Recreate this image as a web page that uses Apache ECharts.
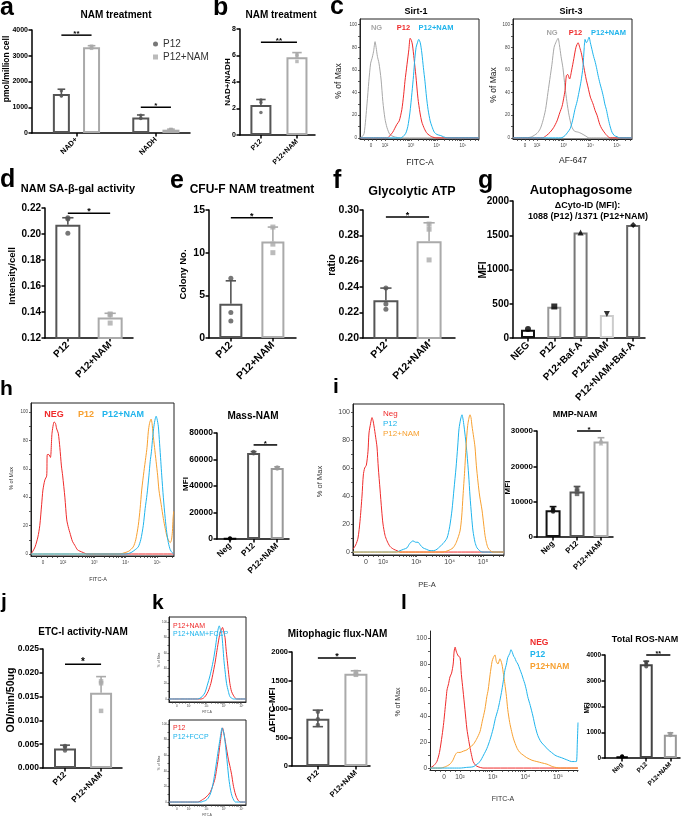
<!DOCTYPE html>
<html><head><meta charset="utf-8">
<script src="https://cdn.jsdelivr.net/npm/echarts@6.0.0/dist/echarts.min.js"></script>
<style>html,body{margin:0;padding:0;background:#fff;}#chart{width:685px;height:823px;}</style>
</head><body><div id="chart"></div>
<script>
// ================= DATA =================
// a: NAM treatment (grouped)
const aCats = ['NAD+', 'NADH'];
const aP12Mean = [1510, 606];
const aP12Upper = [1700, 700];
const aP12Dots = [[1640, 1450, 1440], [690, 580, 560]];
const aNAMMean = [3330, 129];
const aNAMUpper = [3390, 150];
const aNAMDots = [[3370, 3330, 3290], [140, 130, 115]];
const aSig = [[-0.19, 0.19, 3800, '**'], [0.81, 1.19, 1000, '*']];
// b: NAD+/NADH
const bCats = ['P12', 'P12+NAM'];
const bMean = [2.27, 5.86];
const bUpper = [2.68, 6.22];
const bDots = [[2.65, 2.45, 1.7], [6.1, 5.95, 5.55]];
const bSig = [[0, 1, 7.0, '**']];
// c: Sirt-1 / Sirt-3 histograms (x in decades of the logicle scale)
const flowTickLabels = ['0', '10²', '10³', '10⁴', '10⁵'];
const histYTicks = [0, 20, 40, 60, 80, 100];
const c1NG = [[1.04,0],[1.12,1],[1.2,4],[1.31,30],[1.38,50],[1.45,66],[1.5,70],[1.56,76],[1.62,85],[1.66,80],[1.71,72],[1.77,66],[1.85,52],[1.92,32],[2.0,17],[2.08,9],[2.19,3],[2.35,1],[2.6,0],[5.62,0]];
const c1P12 = [[1.04,0],[2.1,0],[2.19,2],[2.3,5],[2.46,12],[2.55,15],[2.65,25],[2.72,38],[2.77,50],[2.85,65],[2.92,78],[2.97,88],[3.02,86],[3.06,82],[3.12,70],[3.19,55],[3.27,35],[3.35,22],[3.42,14],[3.52,8],[3.62,4],[3.8,1],[4.0,0],[5.62,0]];
const c1NAM = [[1.04,0],[2.6,0],[2.69,1],[2.8,4],[2.88,10],[2.96,22],[3.04,40],[3.1,55],[3.15,70],[3.2,80],[3.25,84],[3.3,87],[3.36,84],[3.42,75],[3.48,62],[3.54,50],[3.6,36],[3.66,25],[3.74,15],[3.81,10],[3.9,5],[4.0,3],[4.15,2],[4.25,1],[4.4,0],[5.62,0]];
const c2NG = [[1.1,0],[1.6,0],[1.8,1],[2.0,4],[2.12,8],[2.22,15],[2.32,25],[2.41,40],[2.5,55],[2.56,65],[2.64,80],[2.72,85],[2.79,88],[2.84,82],[2.9,72],[2.97,62],[3.05,45],[3.12,32],[3.2,20],[3.3,10],[3.4,6],[3.55,5],[3.65,4],[3.8,2],[3.95,0],[5.56,0]];
const c2P12 = [[1.1,0],[2.2,0],[2.35,2],[2.49,5],[2.62,9],[2.75,15],[2.85,22],[2.94,28],[3.0,35],[3.05,42],[3.1,55],[3.15,56],[3.22,52],[3.3,60],[3.38,70],[3.46,80],[3.54,84],[3.6,80],[3.67,74],[3.76,62],[3.84,52],[3.91,45],[4.0,36],[4.1,30],[4.18,24],[4.25,20],[4.35,12],[4.43,8],[4.55,4],[4.62,2],[4.75,0],[5.56,0]];
const c2NAM = [[1.1,0],[2.9,0],[3.05,2],[3.15,5],[3.24,8],[3.33,15],[3.42,25],[3.5,32],[3.57,40],[3.65,50],[3.72,62],[3.77,80],[3.8,87],[3.85,84],[3.9,86],[3.95,89],[4.0,84],[4.06,78],[4.12,72],[4.17,68],[4.23,62],[4.29,55],[4.36,48],[4.43,42],[4.5,35],[4.54,30],[4.6,25],[4.66,18],[4.73,11],[4.81,5],[4.9,2],[5.0,1],[5.1,0],[5.56,0]];
// d: SA-beta-gal
const dCats = ['P12', 'P12+NAM'];
const dMean = [0.2072, 0.1357];
const dUpper = [0.2125, 0.139];
const dDots = [[0.2125, 0.2115, 0.2005], [0.1385, 0.1378, 0.1315]];
const dSig = [[0, 1, 0.216, '*']];
// e: CFU-F
const eCats = ['P12', 'P12+NAM'];
const eMean = [4.0, 11.3];
const eUpper = [6.7, 13.0];
const eDots = [[7.0, 3.0, 2.0], [13.0, 11.0, 10.0]];
const eSig = [[0, 1, 14.1, '*']];
// f: Glycolytic ATP
const fCats = ['P12', 'P12+NAM'];
const fMean = [0.2295, 0.2755];
const fUpper = [0.239, 0.290];
const fDots = [[0.239, 0.2265, 0.2225], [0.289, 0.285, 0.261]];
const fSig = [[0, 1, 0.2945, '*']];
// g: Autophagosome
const gCats = ['NEG', 'P12', 'P12+Baf-A', 'P12+NAM', 'P12+NAM+Baf-A'];
const gMean = [120, 455, 1540, 335, 1650];
const gDots = [[130], [460], [1540], [350], [1650]];
// h: Mitochondrial mass
const hNEG = [[0.98,0],[1.04,2],[1.11,5],[1.2,12],[1.26,20],[1.32,35],[1.36,45],[1.42,52],[1.48,55],[1.5,70],[1.55,70],[1.6,68],[1.65,85],[1.72,93],[1.76,92],[1.8,88],[1.85,85],[1.9,75],[1.95,62],[1.99,55],[2.06,40],[2.12,24],[2.18,18],[2.22,15],[2.3,9],[2.38,6],[2.46,3],[2.54,2],[2.65,1],[2.76,0],[5.54,0]];
const hP12 = [[0.98,0],[3.8,0],[3.98,1],[4.1,2],[4.24,5],[4.32,10],[4.4,20],[4.46,32],[4.51,45],[4.58,58],[4.64,68],[4.68,75],[4.72,86],[4.76,92],[4.81,95],[4.84,92],[4.87,85],[4.92,75],[4.97,65],[5.02,55],[5.06,45],[5.13,35],[5.2,25],[5.26,18],[5.32,12],[5.38,9],[5.42,8],[5.46,10],[5.49,16],[5.51,25],[5.53,30]];
const hNAM = [[0.98,0],[4.0,0],[4.17,1],[4.3,3],[4.4,5],[4.48,10],[4.56,20],[4.62,32],[4.68,42],[4.74,55],[4.78,65],[4.82,72],[4.86,82],[4.9,90],[4.94,95],[4.97,97],[5.0,95],[5.04,90],[5.08,78],[5.12,65],[5.15,55],[5.2,40],[5.26,25],[5.31,15],[5.36,8],[5.42,3],[5.48,1],[5.54,0]];
const hBarCats = ['Neg', 'P12', 'P12+NAM'];
const hBarMean = [300, 65000, 53500];
const hBarUpper = [300, 66000, 54500];
const hBarDots = [[100, 300, 500], [64500, 65000, 65800], [53000, 53500, 54200]];
const hBarSig = [[1, 2, 71000, '*']];
// i: MMP
const iNeg = [[1.1,2],[1.18,5],[1.25,10],[1.31,22],[1.37,40],[1.41,55],[1.45,60],[1.5,62],[1.55,72],[1.58,85],[1.63,92],[1.67,96],[1.7,94],[1.73,90],[1.78,82],[1.82,75],[1.86,60],[1.91,45],[1.96,30],[2.0,20],[2.06,12],[2.12,8],[2.21,4],[2.32,2],[2.42,1],[2.51,0],[5.63,0]];
const iP12 = [[1.1,0],[2.4,0],[2.51,1],[2.62,2],[2.72,3],[2.8,6],[2.9,8],[2.98,7],[3.05,7],[3.12,5],[3.2,3],[3.3,2],[3.41,1],[3.52,1],[3.62,2],[3.71,4],[3.8,6],[3.92,10],[4.0,18],[4.07,30],[4.13,45],[4.19,60],[4.24,75],[4.28,88],[4.33,95],[4.37,98],[4.4,95],[4.43,90],[4.48,80],[4.52,70],[4.57,55],[4.61,40],[4.66,25],[4.7,15],[4.76,7],[4.82,3],[4.9,1],[4.97,0],[5.63,0]];
const iNAM = [[1.1,0],[3.8,0],[3.95,1],[4.1,3],[4.2,7],[4.31,15],[4.36,25],[4.4,40],[4.45,58],[4.49,75],[4.52,85],[4.55,92],[4.61,98],[4.64,96],[4.67,90],[4.72,82],[4.76,75],[4.8,62],[4.85,50],[4.9,40],[4.97,30],[5.02,20],[5.06,12],[5.1,7],[5.15,3],[5.22,1],[5.3,0],[5.63,0]];
const iBarCats = ['Neg', 'P12', 'P12+NAM'];
const iBarMean = [7600, 12900, 27000];
const iBarUpper = [8600, 14300, 28100];
const iBarDots = [[7200, 7600, 8000], [12200, 12900, 13600], [26500, 27000, 27500]];
const iBarSig = [[1, 2, 30000, '*']];
// j: ETC-I activity
const jCats = ['P12', 'P12+NAM'];
const jMean = [0.0041, 0.0158];
const jUpper = [0.0048, 0.0192];
const jDots = [[0.0046, 0.0044, 0.0037], [0.0182, 0.0178, 0.012]];
const jSig = [[0, 1, 0.0218, '*']];
// k: Mitophagic flux
const kTopNAM = [[0.86,0],[2.7,0],[2.82,1],[2.95,4],[3.1,10],[3.25,20],[3.39,35],[3.5,48],[3.58,60],[3.68,74],[3.77,85],[3.85,90],[3.92,93],[3.98,88],[4.06,80],[4.12,65],[4.19,50],[4.26,35],[4.34,20],[4.43,10],[4.53,5],[4.62,2],[4.72,0],[5.26,0]];
const kTopFCCP = [[0.86,0],[2.5,0],[2.63,1],[2.75,3],[2.91,8],[3.05,18],[3.2,30],[3.32,42],[3.43,55],[3.53,70],[3.62,85],[3.69,93],[3.73,95],[3.8,90],[3.87,85],[3.94,68],[4.0,50],[4.07,35],[4.15,20],[4.25,10],[4.34,3],[4.45,1],[4.53,0],[5.26,0]];
const kBotP12 = [[0.86,0],[2.5,0],[2.63,1],[2.77,3],[2.91,5],[3.05,8],[3.2,12],[3.35,20],[3.49,30],[3.58,42],[3.67,55],[3.75,70],[3.81,80],[3.87,90],[3.92,95],[3.98,90],[4.06,80],[4.15,68],[4.25,55],[4.35,45],[4.44,35],[4.53,22],[4.63,12],[4.72,6],[4.82,2],[4.95,0],[5.26,0]];
const kBotFCCP = [[0.86,0],[2.7,0],[2.82,1],[2.96,2],[3.1,5],[3.25,12],[3.39,25],[3.5,40],[3.6,55],[3.7,70],[3.77,80],[3.84,90],[3.89,95],[3.95,92],[4.02,85],[4.1,70],[4.19,50],[4.28,30],[4.38,15],[4.47,7],[4.57,2],[4.66,0],[5.26,0]];
const kCats = ['P12', 'P12+NAM'];
const kMean = [830, 1620];
const kUpper = [980, 1670];
const kLower = [690, 1620];
const kDots = [[950, 820, 720], [1650, 1600, 1610]];
const kSig = [[0, 1, 1895, '*']];
// l: Total ROS
const lNEG = [[1.08,0],[1.2,2],[1.29,5],[1.37,12],[1.45,25],[1.5,35],[1.54,45],[1.58,55],[1.6,60],[1.65,65],[1.69,70],[1.74,73],[1.79,80],[1.82,90],[1.85,93],[1.88,90],[1.91,88],[1.95,86],[2.0,85],[2.04,72],[2.09,60],[2.15,45],[2.21,30],[2.26,22],[2.31,15],[2.36,9],[2.4,5],[2.48,2],[2.55,1],[2.7,0],[5.61,0]];
const lNAM = [[1.08,0],[1.39,0],[1.55,1],[1.69,3],[1.78,6],[1.85,10],[1.92,12],[2.0,12],[2.1,13],[2.21,14],[2.3,16],[2.4,18],[2.5,22],[2.61,28],[2.68,36],[2.76,45],[2.82,55],[2.86,60],[2.92,72],[2.98,82],[3.02,85],[3.07,87],[3.11,82],[3.16,80],[3.22,84],[3.28,80],[3.33,72],[3.37,65],[3.42,55],[3.46,45],[3.52,35],[3.58,28],[3.63,23],[3.67,20],[3.75,15],[3.83,12],[3.93,10],[4.04,8],[4.2,6],[4.35,5],[4.5,4],[4.66,3],[4.75,2],[4.84,1],[5.06,0],[5.61,0]];
const lP12 = [[1.08,0],[2.0,0],[2.2,0.5],[2.4,1],[2.52,3],[2.61,5],[2.72,10],[2.82,15],[2.92,22],[3.01,30],[3.08,38],[3.16,45],[3.22,52],[3.28,60],[3.33,68],[3.37,75],[3.42,80],[3.46,85],[3.52,88],[3.56,91],[3.6,89],[3.64,86],[3.67,85],[3.72,82],[3.77,80],[3.83,76],[3.89,72],[3.94,68],[3.98,65],[4.03,60],[4.07,55],[4.15,48],[4.23,40],[4.3,32],[4.38,25],[4.48,20],[4.59,17],[4.7,14],[4.8,12],[4.9,10],[4.98,9],[5.1,8],[5.2,7],[5.3,6],[5.41,5],[5.5,5],[5.56,5],[5.59,20],[5.61,35]];
const lBarCats = ['Neg', 'P12', 'P12+NAM'];
const lBarMean = [60, 3640, 900];
const lBarUpper = [60, 3760, 980];
const lBarDots = [[50, 60, 70], [3550, 3650, 3720], [880, 900, 940]];
const lBarSig = [[1, 2, 4000, '**']];

// ================= BUILD =================
const FONT = '"Liberation Sans", Arial, Helvetica, sans-serif';
const RED = '#ef2b2b', BLUE = '#1fb4ec', ORANGE = '#f7a030', GREY = '#a8a8a8';
const grids = [], xAxes = [], yAxes = [], series = [], graphic = [];

function text(x, y, s, size, opt) {
  opt = opt || {};
  graphic.push({ type: 'text', x: x, y: y, rotation: opt.rot ? Math.PI / 2 : 0, silent: true, z: 100,
    style: { text: s, font: (opt.normal ? '' : 'bold ') + size + 'px ' + FONT, fill: opt.color || '#000',
      textAlign: opt.align || 'center', textVerticalAlign: 'middle' } });
}

function sigSeries(gi, sig, size) {
  series.push({ type: 'custom', xAxisIndex: gi, yAxisIndex: gi, silent: true, animation: false, z: 5,
    data: sig.map(s => [s[0], s[1], s[2]]),
    renderItem: (params, api) => {
      const a = api.coord([api.value(0), api.value(2)]);
      const b = api.coord([api.value(1), api.value(2)]);
      return { type: 'group', children: [
        { type: 'line', shape: { x1: a[0], y1: a[1], x2: b[0], y2: b[1] }, style: { stroke: '#000', lineWidth: 1.5 } },
        { type: 'text', x: (a[0] + b[0]) / 2, y: a[1] + size * 0.35, style: { text: sig[params.dataIndex][3],
          font: 'bold ' + size + 'px ' + FONT, fill: '#000', textAlign: 'center', textVerticalAlign: 'bottom' } }
      ] };
    } });
}

function barPanel(p) {
  const gi = grids.length;
  grids.push({ left: p.L, top: p.T, width: p.R - p.L, height: p.B - p.T, show: false });
  const idx = p.cats.map((c, i) => i);
  const lw = p.lw || 1.5, tl = p.tl || 3.5;
  xAxes.push({ gridIndex: gi, type: 'value', min: p.xmin, max: p.xmax, splitLine: { show: false },
    axisLine: { show: true, onZero: false, lineStyle: { color: '#000', width: lw } },
    axisTick: { show: true, customValues: idx, length: tl, lineStyle: { color: '#000', width: lw } },
    axisLabel: { show: true, customValues: idx, formatter: v => p.cats[Math.round(v)], rotate: 45, margin: tl + 2,
      fontSize: p.xfs || p.fs, fontWeight: 'bold', fontFamily: FONT, color: '#000' } });
  yAxes.push({ gridIndex: gi, type: 'value', min: p.ymin, max: p.ymax, interval: p.yint, splitLine: { show: false },
    axisLine: { show: true, onZero: false, lineStyle: { color: '#000', width: lw } },
    axisTick: { show: true, length: tl, lineStyle: { color: '#000', width: lw } },
    axisLabel: { margin: tl + 0.5, fontSize: p.fs, fontWeight: 'bold', fontFamily: FONT, color: '#000',
      formatter: p.dec != null ? (v => v.toFixed(p.dec)) : (v => String(Math.round(v))) } });
  p.groups.forEach(g => {
    const col = i => Array.isArray(g.color) ? g.color[i] : g.color;
    const dcol = i => g.dotColor ? (Array.isArray(g.dotColor) ? g.dotColor[i] : g.dotColor) : col(i);
    const sym = i => Array.isArray(g.sym) ? g.sym[i] : (g.sym || 'circle');
    const off = g.off || 0;
    series.push({ type: 'bar', xAxisIndex: gi, yAxisIndex: gi, barWidth: p.bw, barGap: '-100%', silent: true, animation: false, z: 2,
      data: g.mean.map((v, i) => ({ value: [i + off, v], itemStyle: { color: '#fff', borderColor: col(i), borderWidth: p.bl || 2 } })) });
    if (g.upper) {
      const eb = g.mean.map((v, i) => [i + off, v, g.upper[i], g.lower ? g.lower[i] : v]);
      const cap = p.cap || p.bw * 0.45;
      series.push({ type: 'custom', xAxisIndex: gi, yAxisIndex: gi, silent: true, animation: false, z: 3, data: eb,
        renderItem: (params, api) => {
          const x = api.value(0), m = api.value(1), hi = api.value(2), lo = api.value(3);
          const c = col(params.dataIndex);
          const ph = api.coord([x, hi]), pl = api.coord([x, lo]);
          const ch = [];
          if (hi > m || lo < m) ch.push({ type: 'line', shape: { x1: ph[0], y1: ph[1], x2: pl[0], y2: pl[1] }, style: { stroke: c, lineWidth: 1.6 } });
          if (hi > m) ch.push({ type: 'line', shape: { x1: ph[0] - cap / 2, y1: ph[1], x2: ph[0] + cap / 2, y2: ph[1] }, style: { stroke: c, lineWidth: 1.6 } });
          if (lo < m) ch.push({ type: 'line', shape: { x1: pl[0] - cap / 2, y1: pl[1], x2: pl[0] + cap / 2, y2: pl[1] }, style: { stroke: c, lineWidth: 1.6 } });
          return { type: 'group', children: ch };
        } });
    }
    if (g.dots) g.dots.forEach((arr, i) => {
      series.push({ type: 'scatter', name: g.name, xAxisIndex: gi, yAxisIndex: gi, silent: true, animation: false, z: 4,
        symbol: sym(i), symbolSize: p.ds || 4, symbolRotate: g.symRot ? g.symRot[i] : 0,
        itemStyle: { color: dcol(i) }, data: arr.map(v => [i + off, v]) });
    });
  });
  if (p.sig) sigSeries(gi, p.sig, p.sigfs || 9);
}

function histPanel(p) {
  const gi = grids.length;
  grids.push({ left: p.L, top: p.T, width: p.R - p.L, height: p.B - p.T, show: !!p.box, borderColor: '#222', borderWidth: 1, backgroundColor: 'rgba(0,0,0,0)' });
  const majors = [p.zero, 2, 3, 4, 5];
  const minors = [];
  for (let n = 2; n <= 5; n++) for (let k = 1; k <= 9; k++) { const v = n + Math.log10(k); if (v < p.xmax) minors.push(v); }
  const st = (2 - p.xmin) / 6; for (let i = 1; i < 6; i++) minors.push(p.xmin + i * st);
  const yMinor = []; for (let v = 0; v <= 100; v += 10) yMinor.push(v);
  xAxes.push({ gridIndex: gi, type: 'value', min: p.xmin, max: p.xmax, splitLine: { show: false },
    axisLine: { show: true, onZero: false, lineStyle: { color: '#222', width: 1 } },
    axisTick: { show: true, customValues: minors, length: p.tl || 2, lineStyle: { color: '#333', width: 0.8 } },
    axisLabel: { show: true, customValues: majors, formatter: v => { const k = majors.findIndex(m => Math.abs(m - v) < 1e-6); return k >= 0 ? flowTickLabels[k] : ''; },
      fontSize: p.tfs, color: '#444', fontFamily: FONT, margin: p.xm || 4 } });
  yAxes.push({ gridIndex: gi, type: 'value', min: p.ymin, max: p.ymax, splitLine: { show: false },
    axisLine: { show: true, onZero: false, lineStyle: { color: '#222', width: 1 } },
    axisTick: { show: true, customValues: yMinor, length: p.tl || 2, lineStyle: { color: '#333', width: 0.8 } },
    axisLabel: { customValues: histYTicks, fontSize: p.tfs, color: '#444', fontFamily: FONT, margin: p.ym || 3, formatter: v => String(Math.round(v)) } });
  p.curves.forEach(c => series.push({ type: 'line', xAxisIndex: gi, yAxisIndex: gi, data: c[0], smooth: 0.25, symbol: 'none',
    lineStyle: { color: c[1], width: p.lw || 1 }, animation: false, silent: true, z: 3 }));
}

// ---- a ----
barPanel({ L: 32, T: 30, R: 190, B: 133, xmin: -0.56, xmax: 1.43, ymin: 0, ymax: 4000, yint: 1000, fs: 7, xfs: 7.5, bw: 17, ds: 3.5,
  cats: aCats, sigfs: 8,
  groups: [
    { off: -0.19, name: 'P12', mean: aP12Mean, upper: aP12Upper, dots: aP12Dots, color: '#555', sym: 'circle' },
    { off: 0.19, name: 'P12+NAM', mean: aNAMMean, upper: aNAMUpper, dots: aNAMDots, color: '#aaa', sym: 'rect' }],
  sig: aSig });
// ---- b ----
barPanel({ L: 240, T: 29, R: 315, B: 135, xmin: -0.58, xmax: 1.5, ymin: 0, ymax: 8, yint: 2, fs: 7, bw: 21, ds: 3.5, sigfs: 8,
  cats: bCats, groups: [{ mean: bMean, upper: bUpper, dots: bDots, color: ['#555', '#aaa'], sym: ['circle', 'rect'] }], sig: bSig });
// ---- c ----
histPanel({ L: 360, T: 19, R: 479, B: 139, xmin: 1.04, xmax: 5.62, zero: 1.46, ymin: -1, ymax: 105, tfs: 4.5, box: true,
  curves: [[c1NG, GREY], [c1P12, RED], [c1NAM, BLUE]] });
histPanel({ L: 513, T: 19, R: 632, B: 139, xmin: 1.1, xmax: 5.56, zero: 1.55, ymin: -1, ymax: 105, tfs: 4.5, box: true,
  curves: [[c2NG, GREY], [c2P12, RED], [c2NAM, BLUE]] });
// ---- d ----
barPanel({ L: 45, T: 208, R: 133, B: 338, xmin: -0.54, xmax: 1.54, ymin: 0.12, ymax: 0.22, yint: 0.02, dec: 2, fs: 10, bw: 25, ds: 5,
  cats: dCats, groups: [{ mean: dMean, upper: dUpper, dots: dDots, color: ['#555', '#aaa'], sym: ['circle', 'rect'] }], sig: dSig });
// ---- e ----
barPanel({ L: 209, T: 210, R: 296, B: 338, xmin: -0.52, xmax: 1.55, ymin: 0, ymax: 15, yint: 5, fs: 10.5, bw: 23, ds: 5,
  cats: eCats, groups: [{ mean: eMean, upper: eUpper, dots: eDots, color: ['#555', '#aaa'], sym: ['circle', 'rect'] }], sig: eSig });
// ---- f ----
barPanel({ L: 363, T: 210, R: 455, B: 338, xmin: -0.53, xmax: 1.6, ymin: 0.2, ymax: 0.3, yint: 0.02, dec: 2, fs: 10.5, bw: 25, ds: 5,
  cats: fCats, groups: [{ mean: fMean, upper: fUpper, dots: fDots, color: ['#555', '#aaa'], sym: ['circle', 'rect'] }], sig: fSig });
// ---- g ----
barPanel({ L: 513, T: 201, R: 645, B: 338, xmin: -0.57, xmax: 4.45, ymin: 0, ymax: 2000, yint: 500, fs: 10, bw: 14, ds: 6,
  cats: gCats, groups: [{ mean: gMean, dots: gDots, color: ['#111', '#999', '#777', '#ccc', '#666'], dotColor: '#000',
    sym: ['circle', 'rect', 'triangle', 'triangle', 'diamond'], symRot: [0, 0, 0, 180, 0] }] });
// ---- h ----
histPanel({ L: 31, T: 403, R: 174, B: 556, xmin: 0.98, xmax: 5.54, zero: 1.36, ymin: -1.4, ymax: 106.3, tfs: 4.5, box: true,
  curves: [[hNEG, RED], [hP12, ORANGE], [hNAM, BLUE]] });
barPanel({ L: 217, T: 433, R: 289, B: 539, xmin: -0.55, xmax: 2.5, ymin: 0, ymax: 80000, yint: 20000, fs: 8.5, bw: 13, ds: 4, sigfs: 8,
  cats: hBarCats, groups: [{ mean: hBarMean, upper: hBarUpper, dots: hBarDots, color: ['#000', '#555', '#999'], sym: 'circle' }], sig: hBarSig });
// ---- i ----
histPanel({ L: 353, T: 404, R: 504, B: 555, xmin: 1.1, xmax: 5.63, zero: 1.49, ymin: -2.1, ymax: 105.7, tfs: 7, box: true,
  curves: [[iNeg, RED], [iP12, BLUE], [iNAM, ORANGE]] });
barPanel({ L: 537, T: 431, R: 613, B: 537, xmin: -0.67, xmax: 2.5, ymin: 0, ymax: 30000, yint: 10000, fs: 8, bw: 15, ds: 4.5, sigfs: 8,
  cats: iBarCats, groups: [{ mean: iBarMean, upper: iBarUpper, dots: iBarDots, color: ['#111', '#555', '#aaa'], sym: ['circle', 'rect', 'triangle'] }], sig: iBarSig });
// ---- j ----
barPanel({ L: 43, T: 649, R: 122, B: 768, xmin: -0.61, xmax: 1.58, ymin: 0, ymax: 0.025, yint: 0.005, dec: 3, fs: 8.5, bw: 22, ds: 4.5, sigfs: 10,
  cats: jCats, groups: [{ mean: jMean, upper: jUpper, dots: jDots, color: ['#555', '#aaa'], sym: ['circle', 'rect'] }], sig: jSig });
// ---- k ----
histPanel({ L: 169, T: 617, R: 246, B: 702, xmin: 0.86, xmax: 5.26, zero: 1.31, ymin: -3.9, ymax: 106.5, tfs: 3, box: true, tl: 1.5, xm: 3, ym: 2,
  curves: [[kTopNAM, RED], [kTopFCCP, BLUE]] });
histPanel({ L: 169, T: 720, R: 246, B: 805, xmin: 0.86, xmax: 5.26, zero: 1.31, ymin: -3.8, ymax: 105.1, tfs: 3, box: true, tl: 1.5, xm: 3, ym: 2,
  curves: [[kBotP12, RED], [kBotFCCP, BLUE]] });
barPanel({ L: 292, T: 652, R: 370, B: 766, xmin: -0.68, xmax: 1.37, ymin: 0, ymax: 2000, yint: 500, fs: 7.5, bw: 23, ds: 4.5, sigfs: 9,
  cats: kCats, groups: [{ mean: kMean, upper: kUpper, lower: kLower, dots: kDots, color: ['#555', '#aaa'], sym: ['circle', 'rect'] }], sig: kSig });
// ---- l ----
histPanel({ L: 430, T: 631, R: 578, B: 770, xmin: 1.08, xmax: 5.61, zero: 1.51, ymin: -1.5, ymax: 105.4, tfs: 6.5, box: false,
  curves: [[lNEG, RED], [lNAM, ORANGE], [lP12, BLUE]] });
barPanel({ L: 605, T: 655, R: 680, B: 758, xmin: -0.71, xmax: 2.4, ymin: 0, ymax: 4000, yint: 1000, fs: 6.5, bw: 13, ds: 4, sigfs: 7,
  cats: lBarCats, groups: [{ mean: lBarMean, upper: lBarUpper, dots: lBarDots, color: ['#000', '#444', '#999'], sym: 'circle' }], sig: lBarSig });

// ---- texts ----
// panel letters
[['a',0,8.5,25],['b',213,8,25],['c',330,7,25],['d',0,180,25],['e',170,181,25],['f',333,181,25],['g',478,181,25],
 ['h',0,389.5,21],['i',333,387.5,21],['j',1,602.5,21],['k',152,603.5,21],['l',401,603.5,21]].forEach(t => text(t[1], t[2], t[0], t[3], { align: 'left' }));
// titles
text(116, 15, 'NAM treatment', 10);
text(281, 15, 'NAM treatment', 10);
text(416, 11.5, 'Sirt-1', 9);
text(571, 11.5, 'Sirt-3', 9);
text(78, 189, 'NAM SA-β-gal activity', 11);
text(252, 189.5, 'CFU-F NAM treatment', 12);
text(412, 192, 'Glycolytic ATP', 12.5);
text(581, 190, 'Autophagosome', 13);
text(587.5, 205.5, 'ΔCyto-ID (MFI):', 9);
text(588, 217, '1088 (P12) /1371 (P12+NAM)', 9);
text(253, 416.5, 'Mass-NAM', 10);
text(575, 415, 'MMP-NAM', 9);
text(83, 632.5, 'ETC-I activity-NAM', 10);
text(337.5, 634.5, 'Mitophagic flux-NAM', 10);
text(645, 640, 'Total ROS-NAM', 9);
// y axis names (bar charts)
text(7, 69, 'pmol/million cell', 8.5, { rot: true });
text(227.5, 82, 'NAD+/NADH', 8, { rot: true });
text(12.5, 276, 'Intensity/cell', 9.5, { rot: true });
text(183.5, 274.5, 'Colony No.', 9.5, { rot: true });
text(332, 265, 'ratio', 10, { rot: true });
text(483, 270, 'MFI', 10, { rot: true });
text(185.5, 484, 'MFI', 8, { rot: true });
text(507.5, 487.5, 'MFI', 8, { rot: true });
text(11.5, 700, 'OD/min/50ug', 10.5, { rot: true });
text(273, 710, 'ΔFITC-MFI', 9, { rot: true });
text(587, 708, 'MFI', 6.5, { rot: true });
// histogram axis names
text(338.5, 81, '% of Max', 8.5, { rot: true, normal: true, color: '#222' });
text(420, 163, 'FITC-A', 8.5, { normal: true, color: '#222' });
text(493.5, 85, '% of Max', 8.5, { rot: true, normal: true, color: '#222' });
text(573, 161, 'AF-647', 8.5, { normal: true, color: '#222' });
text(11.5, 478.5, '% of Max', 5.5, { rot: true, normal: true, color: '#333' });
text(98, 579, 'FITC-A', 5.5, { normal: true, color: '#333' });
text(320, 481.5, '% of Max', 7.5, { rot: true, normal: true, color: '#333' });
text(427, 585, 'PE-A', 7.5, { normal: true, color: '#333' });
text(398, 702, '% of Max', 7, { rot: true, normal: true, color: '#333' });
text(503, 799, 'FITC-A', 7, { normal: true, color: '#333' });
text(159, 660, '% of Max', 3.5, { rot: true, normal: true, color: '#444' });
text(207, 712, 'FITC-A', 3, { normal: true, color: '#444' });
text(159, 763, '% of Max', 3.5, { rot: true, normal: true, color: '#444' });
text(207, 815, 'FITC-A', 3, { normal: true, color: '#444' });
// histogram legends
text(376.5, 27.5, 'NG', 7.5, { color: GREY }); text(403.5, 27.5, 'P12', 7.5, { color: RED }); text(436, 27.5, 'P12+NAM', 7.5, { color: BLUE });
text(552, 32.5, 'NG', 7.5, { color: GREY }); text(575.5, 32.5, 'P12', 7.5, { color: RED }); text(608.5, 32.5, 'P12+NAM', 7.5, { color: BLUE });
text(54, 415, 'NEG', 9, { color: RED }); text(86, 415, 'P12', 9, { color: ORANGE }); text(123, 415, 'P12+NAM', 9, { color: BLUE });
text(383, 413.5, 'Neg', 8, { align: 'left', normal: true, color: RED });
text(383, 423.5, 'P12', 8, { align: 'left', normal: true, color: BLUE });
text(383, 433.5, 'P12+NAM', 8, { align: 'left', normal: true, color: ORANGE });
text(530, 643, 'NEG', 8.5, { align: 'left', color: RED });
text(530, 655, 'P12', 8.5, { align: 'left', color: BLUE });
text(530, 666.5, 'P12+NAM', 8.5, { align: 'left', color: ORANGE });
text(173, 626, 'P12+NAM', 7, { align: 'left', normal: true, color: RED });
text(173, 634, 'P12+NAM+FCCP', 7, { align: 'left', normal: true, color: BLUE });
text(173, 728, 'P12', 7, { align: 'left', normal: true, color: RED });
text(173, 737, 'P12+FCCP', 7, { align: 'left', normal: true, color: BLUE });

const chart = echarts.init(document.getElementById('chart'), null, { renderer: 'canvas' });
chart.setOption({
  animation: false,
  legend: { data: [{ name: 'P12', icon: 'circle' }, { name: 'P12+NAM', icon: 'rect' }], left: 148, top: 34, orient: 'vertical',
    itemWidth: 5, itemHeight: 5, itemGap: 3, selectedMode: false, textStyle: { fontSize: 10, fontFamily: FONT, color: '#333' } },
  grid: grids, xAxis: xAxes, yAxis: yAxes, series: series,
  graphic: { elements: graphic }
});
</script></body></html>
